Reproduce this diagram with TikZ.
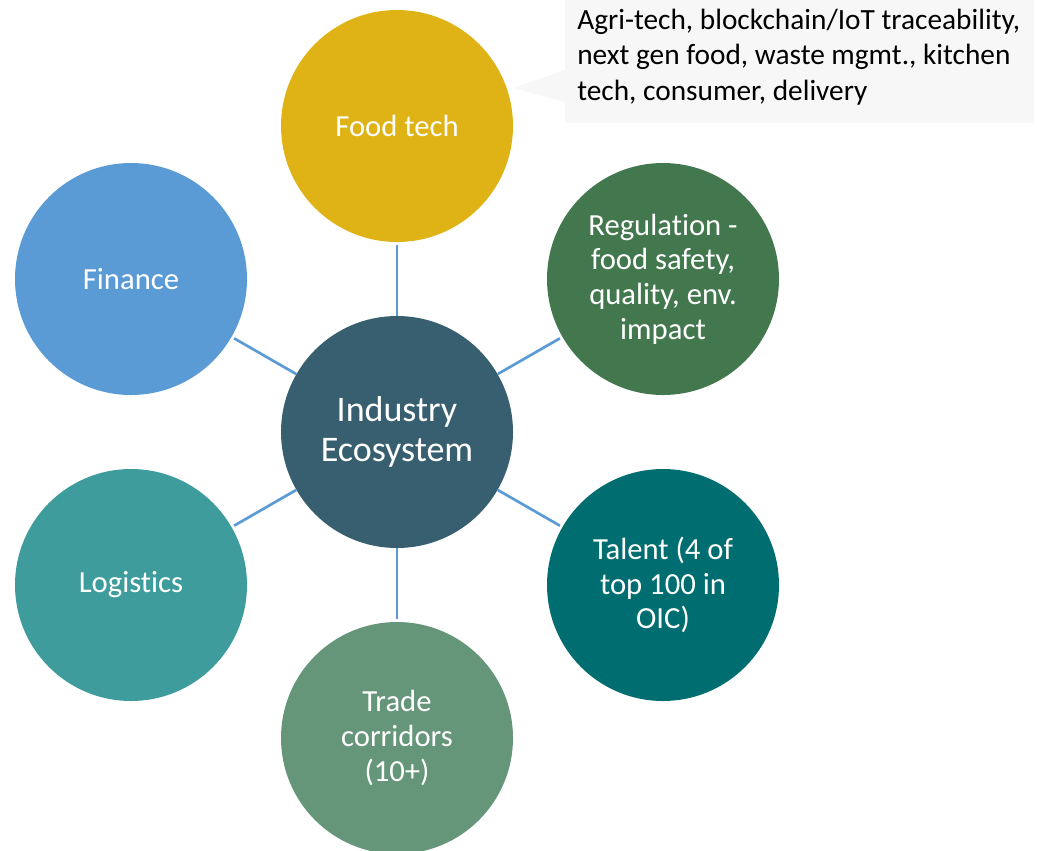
\documentclass[tikz,border=0pt]{standalone}
\usepackage{fontspec}
\setmainfont{Carlito}[Ligatures={NoCommon,NoContextual}]
\definecolor{ecocol}{HTML}{385F6F}
\definecolor{foodcol}{HTML}{DFB315}
\definecolor{fincol}{HTML}{5B9BD5}
\definecolor{regcol}{HTML}{43784F}
\definecolor{logicol}{HTML}{3E9C9C}
\definecolor{talentcol}{HTML}{006D70}
\definecolor{tradecol}{HTML}{66967A}
\definecolor{linkcol}{HTML}{5B9BD5}
\definecolor{notecol}{HTML}{F7F7F7}
\tikzset{
  bubble/.style={circle, minimum size=174pt, inner sep=0pt, text=white,
    align=center, font=\fontsize{23}{26}\selectfont},
  link/.style={draw=linkcol, line width=2pt}
}

\begin{document}
\begin{tikzpicture}[x=0.75pt,y=-0.75pt]
  \useasboundingbox (0,0) rectangle (1037,850);
  \node[bubble, fill=ecocol, font=\fontsize{27}{29.5}\selectfont] (eco) at (397,432) {Industry\\Ecosystem};
  \node[bubble, fill=foodcol]   (food)   at (397,126) {Food tech};
  \node[bubble, fill=regcol]    (reg)    at (663,279) {Regulation -\\food safety,\\quality, env.\\impact};
  \node[bubble, fill=talentcol] (talent) at (663,585) {Talent (4 of\\top 100 in\\OIC)};
  \node[bubble, fill=tradecol]  (trade)  at (397,738) {Trade\\corridors\\(10+)};
  \node[bubble, fill=logicol]   (logi)   at (131,585) {Logistics};
  \node[bubble, fill=fincol]    (fin)    at (131,279) {Finance};
  \foreach \n in {food,reg,talent,trade,logi,fin}
    \draw[link, shorten >=2pt] (eco) -- (\n);
  % callout
  \fill[notecol] (565,0) -- (1034,0) -- (1034,123) -- (565,123) -- (565,102)
    -- (513,88) -- (565,70) -- cycle;
  \node[anchor=north west, align=left, inner sep=0pt,
    font=\fontsize{22}{26.5}\selectfont] (note) at (577,9)
    {Agri-tech, blockchain/IoT traceability,\\next gen food, waste mgmt., kitchen\\tech, consumer, delivery};
\end{tikzpicture}
\end{document}
